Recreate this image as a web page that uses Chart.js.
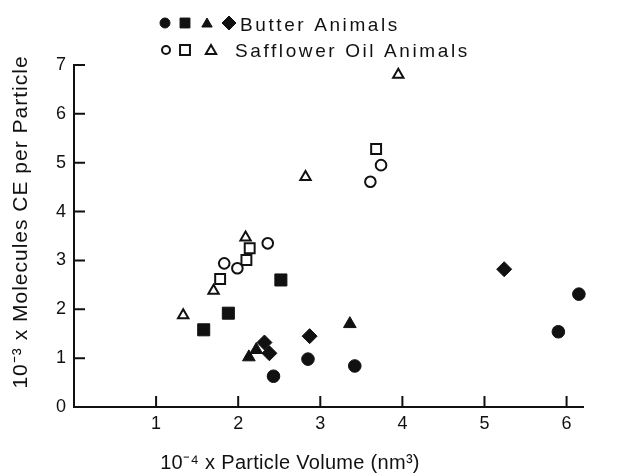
<!DOCTYPE html>
<html>
<head>
<meta charset="utf-8">
<script src="https://cdn.jsdelivr.net/npm/chart.js@4/dist/chart.umd.min.js"></script>
<style>
  html, body { margin: 0; padding: 0; background: #fff; }
  canvas { display: block; }
</style>
</head>
<body>
<canvas id="chart" width="619" height="476"></canvas>
<script>
// ===== DATA =====

// Tick labels
const X_TICKS = [1, 2, 3, 4, 5, 6];
const Y_TICKS = [0, 1, 2, 3, 4, 5, 6, 7];

// Butter animals (filled markers)
const butterCircleX   = [2.43, 2.85, 3.42, 5.90, 6.15];
const butterCircleY   = [0.63, 0.98, 0.84, 1.54, 2.31];
const butterSquareX   = [1.58, 1.88, 2.52];
const butterSquareY   = [1.58, 1.92, 2.60];
const butterTriangleX = [2.13, 2.22, 3.36];
const butterTriangleY = [1.02, 1.17, 1.70];
const butterDiamondX  = [2.32, 2.38, 2.87, 5.24];
const butterDiamondY  = [1.32, 1.10, 1.45, 2.82];

// Safflower oil animals (open markers)
const saffCircleX   = [1.83, 1.99, 2.36, 3.61, 3.74];
const saffCircleY   = [2.94, 2.84, 3.35, 4.61, 4.95];
const saffSquareX   = [1.78, 2.10, 2.14, 3.68];
const saffSquareY   = [2.62, 3.01, 3.25, 5.28];
const saffTriangleX = [1.33, 1.70, 2.09, 2.82, 3.95];
const saffTriangleY = [1.88, 2.38, 3.47, 4.71, 6.80];

const INK = '#111';
const FONT = '"Liberation Sans", Arial, Helvetica, sans-serif';

// Pair up x/y lists into scatter points
function pts(xs, ys) {
  return xs.map((x, i) => ({ x, y: ys[i] }));
}

function filled(label, xs, ys, style, r) {
  return { label, data: pts(xs, ys), pointStyle: style, pointRadius: r, pointHoverRadius: r,
           backgroundColor: INK, borderColor: INK, borderWidth: 1, clip: false };
}

function open(label, xs, ys, style, r) {
  return { label, data: pts(xs, ys), pointStyle: style, pointRadius: r, pointHoverRadius: r,
           backgroundColor: '#fff', borderColor: INK, borderWidth: 2, clip: false };
}

// ===== DECORATIONS: inward ticks, axis titles, legend =====
const decorations = {
  id: 'decorations',
  afterDraw(chart) {
    const { ctx, chartArea: a, scales: { x, y } } = chart;
    ctx.save();
    ctx.strokeStyle = INK;
    ctx.fillStyle = INK;
    ctx.lineWidth = 2;

    ctx.beginPath();
    X_TICKS.forEach(v => {
      const px = x.getPixelForValue(v);
      ctx.moveTo(px, a.bottom); ctx.lineTo(px, a.bottom - 11);
    });
    Y_TICKS.forEach(v => {
      const py = y.getPixelForValue(v);
      ctx.moveTo(a.left, py); ctx.lineTo(a.left + 11, py);
    });
    ctx.stroke();

    // axis titles
    ctx.font = '20px ' + FONT;
    ctx.textAlign = 'center';
    ctx.textBaseline = 'middle';
    ctx.letterSpacing = '0.3px';
    ctx.fillText('10⁻⁴ x Particle Volume (nm³)', 290, 463);

    ctx.save();
    ctx.translate(21, 222);
    ctx.rotate(-Math.PI / 2);
    ctx.font = '21px ' + FONT;
    ctx.letterSpacing = '1px';
    ctx.fillText('10⁻³ x Molecules CE per Particle', 0, 0);
    ctx.restore();

    // legend
    const draw = (style, r, fill, px, py) => {
      ctx.fillStyle = fill ? INK : '#fff';
      ctx.lineWidth = fill ? 1 : 2;
      Chart.helpers.drawPoint(ctx, { pointStyle: style, radius: r, borderWidth: ctx.lineWidth }, px, py);
    };
    draw('circle', 5, true, 165, 23);
    draw('rect', 7, true, 185, 23);
    draw('triangle', 6, true, 207, 24);
    draw('rectRot', 7, true, 229, 23);
    draw('circle', 4, false, 166, 50);
    draw('rect', 7, false, 185, 50);
    draw('triangle', 6, false, 211, 51);

    ctx.fillStyle = INK;
    ctx.font = '19px ' + FONT;
    ctx.letterSpacing = '2.6px';
    ctx.textAlign = 'left';
    ctx.textBaseline = 'alphabetic';
    ctx.fillText('Butter Animals', 240, 31);
    ctx.fillText('Safflower Oil Animals', 235, 57);
    ctx.restore();
  }
};

new Chart(document.getElementById('chart'), {
  type: 'scatter',
  data: {
    datasets: [
      filled('Butter ●', butterCircleX, butterCircleY, 'circle', 6.3),
      filled('Butter ■', butterSquareX, butterSquareY, 'rect', 8.5),
      filled('Butter ▲', butterTriangleX, butterTriangleY, 'triangle', 7.3),
      filled('Butter ◆', butterDiamondX, butterDiamondY, 'rectRot', 7.5),
      open('Safflower ○', saffCircleX, saffCircleY, 'circle', 5.3),
      open('Safflower □', saffSquareX, saffSquareY, 'rect', 7),
      open('Safflower △', saffTriangleX, saffTriangleY, 'triangle', 6)
    ]
  },
  options: {
    responsive: false,
    animation: false,
    devicePixelRatio: 1,
    layout: { padding: { top: 65, right: 36, left: 0, bottom: 0 } },
    plugins: { legend: { display: false }, tooltip: { enabled: false } },
    scales: {
      x: {
        type: 'linear', min: 0, max: 6.2,
        afterBuildTicks: s => { s.ticks = X_TICKS.map(value => ({ value })); },
        afterFit: s => { s.height = 69; },
        grid: { display: false, drawTicks: false },
        border: { display: true, color: INK, width: 2 },
        ticks: { color: INK, font: { family: FONT, size: 18 }, padding: 6, maxRotation: 0 }
      },
      y: {
        type: 'linear', min: 0, max: 7,
        afterBuildTicks: s => { s.ticks = Y_TICKS.map(value => ({ value })); },
        afterFit: s => { s.width = 74; },
        grid: { display: false, drawTicks: false },
        border: { display: true, color: INK, width: 2 },
        ticks: { color: INK, font: { family: FONT, size: 18 }, padding: 8 }
      }
    }
  },
  plugins: [decorations]
});
</script>
</body>
</html>
